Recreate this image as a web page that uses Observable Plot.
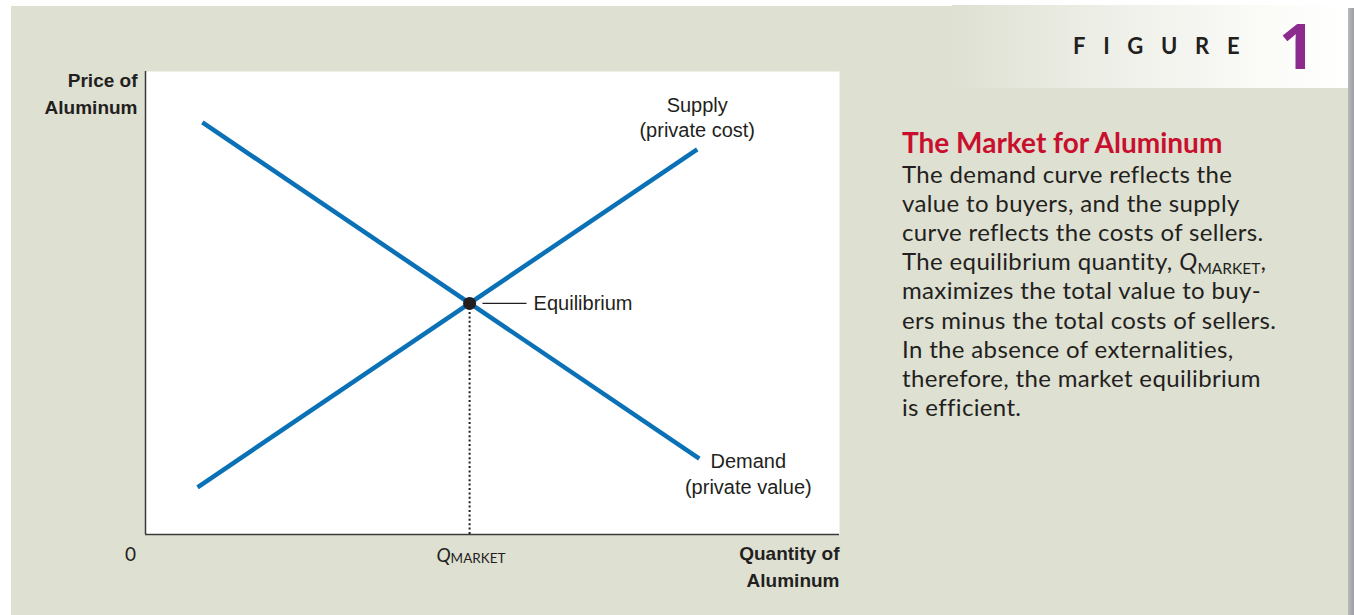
<!DOCTYPE html>
<html><head><meta charset="utf-8">
<script src="https://cdn.jsdelivr.net/npm/d3@7"></script>
<script src="https://cdn.jsdelivr.net/npm/@observablehq/plot@0.6"></script>
<style>
html,body{margin:0;padding:0;background:#fff;}
#wrap{position:relative;width:1354px;height:615px;overflow:hidden;background:#fff;}
#panel{position:absolute;left:11px;top:6px;width:1337px;height:609px;background:#dee0d2;}
#header{position:absolute;left:952px;top:5px;width:397px;height:83px;background:linear-gradient(to right,#dee0d2 0%,#eceee6 35%,#fbfbf8 80%,#ffffff 100%);}
#border{position:absolute;left:1348px;top:8px;width:6px;height:607px;background:linear-gradient(to right,#b8b9bd,#9d9ea3);}
#plot{position:absolute;left:0;top:0;}
#figword{position:absolute;left:1073px;top:33px;font:700 22px/26.4px Lato,sans-serif;letter-spacing:17.7px;color:#231f20;white-space:nowrap;}
#fignum{position:absolute;left:1279px;top:13px;font:700 63px/63px "Open Sans",sans-serif;color:#8d2a8e;}
#title{position:absolute;left:902px;top:125.5px;font:700 28px/33.6px Lato,sans-serif;color:#c8102e;white-space:nowrap;}
#body{position:absolute;left:902px;top:158.5px;font:400 24px/29.2px Lato,sans-serif;letter-spacing:0.35px;color:#231f20;white-space:nowrap;}
#body .q{font-style:italic;}
#body .sub{font-size:15.5px;vertical-align:-4px;line-height:0;letter-spacing:0;}
</style>
</head><body>
<div id="wrap">
  <div id="panel"></div>
  <div id="header"></div>
  <div id="border"></div>
  <div id="plot"></div>
  <div id="figword"></div>
  <div id="fignum"></div>
  <div id="title"></div>
  <div id="body"></div>
</div>
<script>
// ---- data ----
const demandQ = [8.2, 79.8];
const demandP = [89.0, 16.4];
const supplyQ = [7.5, 79.5];
const supplyP = [10.2, 83.2];
const equilibriumQ = [46.7];
const equilibriumP = [49.9];
const supplyLabel = ["Supply", "(private cost)"];
const demandLabel = ["Demand", "(private value)"];
const equilibriumLabel = "Equilibrium";
const yAxisLabel = ["Price of", "Aluminum"];
const xAxisLabel = ["Quantity of", "Aluminum"];
const originLabel = "0";
const qLabelMain = "Q";
const qLabelSub = "MARKET";
const figureWord = "FIGURE";
const figureNumber = "1";
const titleText = "The Market for Aluminum";
const bodyLines = [
  "The demand curve reflects the",
  "value to buyers, and the supply",
  "curve reflects the costs of sellers.",
  "The equilibrium quantity, {Q},",
  "maximizes the total value to buy-",
  "ers minus the total costs of sellers.",
  "In the absence of externalities,",
  "therefore, the market equilibrium",
  "is efficient."
];

// ---- build tables ----
const demand = demandQ.map((q, i) => ({q, p: demandP[i]}));
const supply = supplyQ.map((q, i) => ({q, p: supplyP[i]}));
const eq = equilibriumQ.map((q, i) => ({q, p: equilibriumP[i]}));
const supplyEnd = [supply[supply.length - 1]];
const demandEnd = [demand[demand.length - 1]];

const blue = "#0a71b6";
const ink = "#231f20";
const labelFont = "'Liberation Sans', Arial, sans-serif";

const chart = Plot.plot({
  width: 1354,
  height: 615,
  marginLeft: 145,
  marginRight: 515,
  marginTop: 71,
  marginBottom: 81,
  x: {domain: [0, 100], axis: null},
  y: {domain: [0, 100], axis: null},
  style: {background: "transparent", overflow: "visible"},
  marks: [
    Plot.frame({fill: "white", stroke: null}),
    Plot.ruleX([0], {stroke: "#3b3b3b", strokeWidth: 1.5}),
    Plot.ruleY([0], {stroke: "#3b3b3b", strokeWidth: 1.5}),
    Plot.ruleX(eq, {x: "q", y1: 0, y2: "p", stroke: ink, strokeWidth: 2, strokeDasharray: "2 2.4"}),
    Plot.line(demand, {x: "q", y: "p", stroke: blue, strokeWidth: 4.5, strokeLinecap: "butt"}),
    Plot.line(supply, {x: "q", y: "p", stroke: blue, strokeWidth: 4.5, strokeLinecap: "butt"}),
    Plot.dot(eq, {x: "q", y: "p", r: 6.5, fill: ink, stroke: null}),
    Plot.link(eq, {x1: d => d.q + 1.85, x2: d => d.q + 8.2, y1: "p", y2: "p", stroke: ink, strokeWidth: 1.3}),
    Plot.text(eq, {x: "q", y: "p", text: () => equilibriumLabel, dx: 64, textAnchor: "start", fontSize: 20, fontFamily: labelFont, fill: ink}),
    Plot.text(supplyEnd, {x: "q", y: "p", text: () => supplyLabel.join("\n"), lineAnchor: "bottom", lineHeight: 1.25, dy: -12, fontSize: 20, fontFamily: labelFont, fill: ink}),
    Plot.text(demandEnd, {x: "q", y: "p", text: () => demandLabel.join("\n"), lineAnchor: "top", lineHeight: 1.3, dx: 49, dy: -9.5, fontSize: 20, fontFamily: labelFont, fill: ink}),
    Plot.text([yAxisLabel.join("\n")], {frameAnchor: "top-left", textAnchor: "end", lineAnchor: "top", lineHeight: 1.42, dx: -8, dy: -3.5, fontSize: 19, fontWeight: "bold", fontFamily: labelFont, fill: ink}),
    Plot.text([xAxisLabel.join("\n")], {frameAnchor: "bottom-right", textAnchor: "end", lineAnchor: "top", lineHeight: 1.42, dy: 6.5, fontSize: 19, fontWeight: "bold", fontFamily: labelFont, fill: ink}),
    Plot.text([originLabel], {x: 0, y: 0, text: d => d, lineAnchor: "top", dx: -15, dy: 12.5, fontSize: 19, fontFamily: "Lato, sans-serif", fill: ink}),
    Plot.text(eq, {x: "q", y: 0, text: () => qLabelMain, textAnchor: "end", lineAnchor: "top", dx: -19, dy: 14, fontSize: 19, fontStyle: "italic", fontFamily: "Lato, sans-serif", fill: ink}),
    Plot.text(eq, {x: "q", y: 0, text: () => qLabelSub, textAnchor: "start", lineAnchor: "top", dx: -19, dy: 18.5, fontSize: 13.5, fontFamily: "Lato, sans-serif", fill: ink})
  ]
});
document.getElementById("plot").appendChild(chart);

document.getElementById("figword").textContent = figureWord;
document.getElementById("fignum").textContent = figureNumber;
document.getElementById("title").textContent = titleText;
const body = document.getElementById("body");
bodyLines.forEach(line => {
  const div = document.createElement("div");
  if (line.includes("{Q}")) {
    const [a, b] = line.split("{Q}");
    div.append(a);
    const q = document.createElement("span"); q.className = "q"; q.textContent = qLabelMain; div.append(q);
    const s = document.createElement("span"); s.className = "sub"; s.textContent = qLabelSub; div.append(s);
    div.append(b);
  } else div.textContent = line;
  body.appendChild(div);
});
</script>
</body></html>
